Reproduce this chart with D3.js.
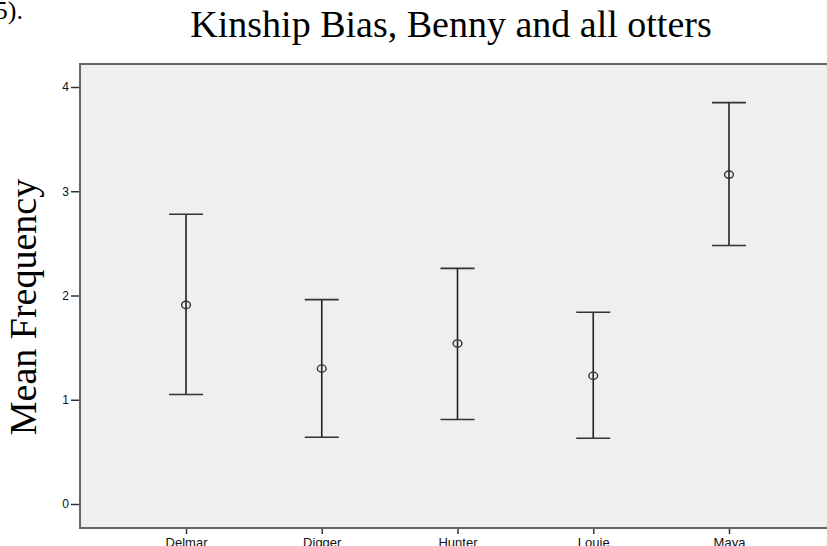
<!DOCTYPE html>
<html>
<head>
<meta charset="utf-8">
<script src="https://cdn.jsdelivr.net/npm/d3@7"></script>
<style>
  html, body { margin: 0; padding: 0; background: #ffffff; overflow: hidden; }
  svg { display: block; }
</style>
</head>
<body>
<svg id="chart" width="827" height="546"></svg>
<script>
// Otter names along the x axis
const otters = ["Delmar", "Digger", "Hunter", "Louie", "Maya"];
// Mean frequency per otter and the error-bar bounds
const meanFreq = [1.91, 1.30, 1.54, 1.23, 3.16];
const lowerBound = [1.05, 0.64, 0.81, 0.63, 2.48];
const upperBound = [2.78, 1.96, 2.26, 1.84, 3.85];
const yTicks = [0, 1, 2, 3, 4];

const svg = d3.select("#chart");

const plot = { left: 80, right: 835, top: 64, bottom: 528 };

const x = d3.scalePoint()
  .domain(otters)
  .range([plot.left, plot.right])
  .padding(0.781);

const y = d3.scaleLinear()
  .domain([-0.2302, 4.2206])
  .range([plot.bottom, plot.top]);

// Stray text left over from the surrounding document
svg.append("text")
  .attr("x", 23)
  .attr("y", 19)
  .attr("text-anchor", "end")
  .attr("font-family", "'Liberation Serif', 'Times New Roman', serif")
  .attr("font-size", 26)
  .attr("fill", "#000")
  .text("5).");

// Title
svg.append("text")
  .attr("x", 451)
  .attr("y", 37)
  .attr("text-anchor", "middle")
  .attr("font-family", "'Liberation Serif', 'Times New Roman', serif")
  .attr("font-size", 38)
  .attr("fill", "#000")
  .text("Kinship Bias, Benny and all otters");

// Plot background
svg.append("rect")
  .attr("x", plot.left)
  .attr("y", plot.top)
  .attr("width", plot.right - plot.left)
  .attr("height", plot.bottom - plot.top)
  .attr("fill", "#efefef");

// Y axis
const yAxis = svg.append("g")
  .attr("transform", `translate(${plot.left},0)`)
  .call(d3.axisLeft(y).tickValues(yTicks).tickSize(9).tickPadding(2).tickFormat(d3.format("d")));
yAxis.select(".domain").remove();
yAxis.selectAll(".tick line").attr("stroke", "#333").attr("stroke-width", 1.5);
yAxis.selectAll(".tick text")
  .attr("font-family", "'Liberation Sans', Arial, sans-serif")
  .attr("font-size", 12)
  .attr("fill", "#111");

// X axis
const xAxis = svg.append("g")
  .attr("transform", `translate(0,${plot.bottom})`)
  .call(d3.axisBottom(x).tickSize(6).tickPadding(4));
xAxis.select(".domain").remove();
xAxis.selectAll(".tick line").attr("stroke", "#333").attr("stroke-width", 1.5);
xAxis.selectAll(".tick text")
  .attr("font-family", "'Liberation Sans', Arial, sans-serif")
  .attr("font-size", 13)
  .attr("fill", "#111");

// Frame lines (left, top, bottom)
const frame = svg.append("g").attr("stroke", "#666").attr("stroke-width", 2).attr("fill", "none");
frame.append("line").attr("x1", plot.left).attr("x2", plot.left).attr("y1", plot.top - 1).attr("y2", plot.bottom + 1);
frame.append("line").attr("x1", plot.left).attr("x2", plot.right).attr("y1", plot.top).attr("y2", plot.top);
frame.append("line").attr("x1", plot.left).attr("x2", plot.right).attr("y1", plot.bottom).attr("y2", plot.bottom);

// Y axis title
svg.append("text")
  .attr("transform", "translate(36,307) rotate(-90)")
  .attr("text-anchor", "middle")
  .attr("font-family", "'Liberation Serif', 'Times New Roman', serif")
  .attr("font-size", 38)
  .attr("fill", "#000")
  .text("Mean Frequency");

// Error bars
const rows = otters.map((name, i) => ({ name, mean: meanFreq[i], lo: lowerBound[i], hi: upperBound[i] }));
const capHalf = 17;
const bars = svg.append("g").selectAll("g").data(rows).join("g");

bars.append("line")
  .attr("x1", d => x(d.name)).attr("x2", d => x(d.name))
  .attr("y1", d => y(d.hi)).attr("y2", d => y(d.lo))
  .attr("stroke", "#222").attr("stroke-width", 1.6);

bars.append("line")
  .attr("x1", d => x(d.name) - capHalf).attr("x2", d => x(d.name) + capHalf)
  .attr("y1", d => y(d.hi)).attr("y2", d => y(d.hi))
  .attr("stroke", "#333").attr("stroke-width", 1.6);

bars.append("line")
  .attr("x1", d => x(d.name) - capHalf).attr("x2", d => x(d.name) + capHalf)
  .attr("y1", d => y(d.lo)).attr("y2", d => y(d.lo))
  .attr("stroke", "#333").attr("stroke-width", 1.6);

bars.append("ellipse")
  .attr("cx", d => x(d.name))
  .attr("cy", d => y(d.mean))
  .attr("rx", 4.4).attr("ry", 3.6)
  .attr("fill", "none")
  .attr("stroke", "#333")
  .attr("stroke-width", 1.4);
</script>
</body>
</html>
